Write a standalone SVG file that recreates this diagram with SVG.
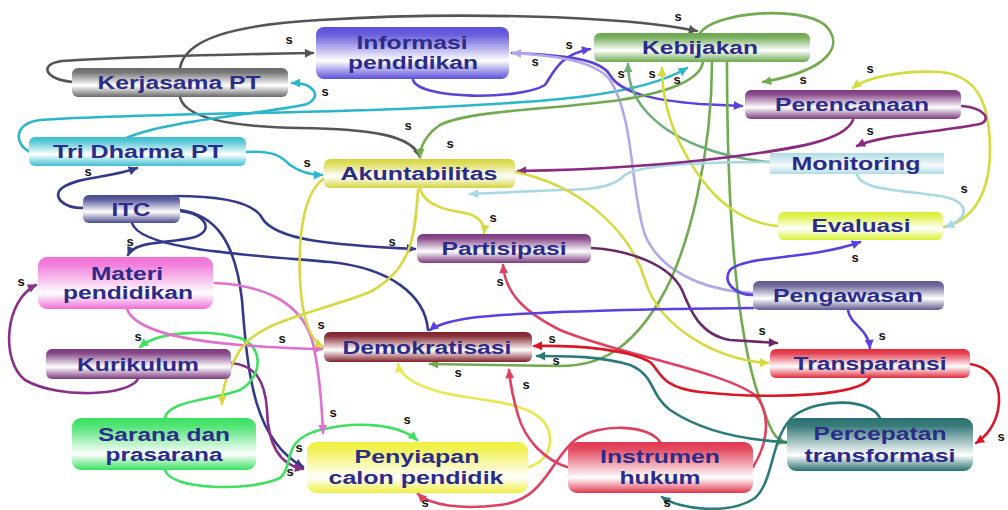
<svg xmlns="http://www.w3.org/2000/svg" width="1008" height="510" viewBox="0 0 1008 510">
<defs>
<style>
.t{font-family:"Liberation Sans",Arial,sans-serif;font-weight:bold;font-size:18px;fill:#2b2b8a;text-anchor:middle}
.s{font-family:"Liberation Sans",Arial,sans-serif;font-weight:bold;font-size:13px;fill:#111;text-anchor:middle}
.e{fill:none;stroke-width:2.6;stroke-linecap:round}
.gray{stroke:#555;marker-end:url(#a-gray)}
.cyan{stroke:#2bb6c9;marker-end:url(#a-cyan)}
.info{stroke:#5a44d8;marker-end:url(#a-info)}
.lav{stroke:#b4a8ec;marker-end:url(#a-lav)}
.kgreen{stroke:#72aa50;marker-end:url(#a-kgreen)}
.sage{stroke:#6fae7a;marker-end:url(#a-sage)}
.eyel{stroke:#d2dc3c;marker-end:url(#a-eyel)}
.lblue{stroke:#a8d8e4;marker-end:url(#a-lblue)}
.pere{stroke:#8a2a80;marker-end:url(#a-pere)}
.navy{stroke:#333a8a;marker-end:url(#a-navy)}
.kur{stroke:#8a3088;marker-end:url(#a-kur)}
.sgreen{stroke:#40e060;marker-end:url(#a-sgreen)}
.pink{stroke:#e070d0;marker-end:url(#a-pink)}
.ayel{stroke:#d8d840;marker-end:url(#a-ayel)}
.pyel{stroke:#e8e850;marker-end:url(#a-pyel)}
.rose{stroke:#e04060;marker-end:url(#a-rose)}
.red{stroke:#d81828;marker-end:url(#a-red)}
.teal{stroke:#2a7a7a;marker-end:url(#a-teal)}
.ppur{stroke:#6a2a6a;marker-end:url(#a-ppur)}
.viol{stroke:#5a40e0;marker-end:url(#a-viol)}
</style>
<marker id="a-gray" viewBox="0 0 10 10" refX="9" refY="5" markerWidth="10" markerHeight="9" markerUnits="userSpaceOnUse" orient="auto"><path d="M0,0L10,5L0,10z" fill="#555"/></marker>
<marker id="a-cyan" viewBox="0 0 10 10" refX="9" refY="5" markerWidth="10" markerHeight="9" markerUnits="userSpaceOnUse" orient="auto"><path d="M0,0L10,5L0,10z" fill="#2bb6c9"/></marker>
<marker id="a-info" viewBox="0 0 10 10" refX="9" refY="5" markerWidth="10" markerHeight="9" markerUnits="userSpaceOnUse" orient="auto"><path d="M0,0L10,5L0,10z" fill="#5a44d8"/></marker>
<marker id="a-lav" viewBox="0 0 10 10" refX="9" refY="5" markerWidth="10" markerHeight="9" markerUnits="userSpaceOnUse" orient="auto"><path d="M0,0L10,5L0,10z" fill="#b4a8ec"/></marker>
<marker id="a-kgreen" viewBox="0 0 10 10" refX="9" refY="5" markerWidth="10" markerHeight="9" markerUnits="userSpaceOnUse" orient="auto"><path d="M0,0L10,5L0,10z" fill="#72aa50"/></marker>
<marker id="a-sage" viewBox="0 0 10 10" refX="9" refY="5" markerWidth="10" markerHeight="9" markerUnits="userSpaceOnUse" orient="auto"><path d="M0,0L10,5L0,10z" fill="#6fae7a"/></marker>
<marker id="a-eyel" viewBox="0 0 10 10" refX="9" refY="5" markerWidth="10" markerHeight="9" markerUnits="userSpaceOnUse" orient="auto"><path d="M0,0L10,5L0,10z" fill="#d2dc3c"/></marker>
<marker id="a-lblue" viewBox="0 0 10 10" refX="9" refY="5" markerWidth="10" markerHeight="9" markerUnits="userSpaceOnUse" orient="auto"><path d="M0,0L10,5L0,10z" fill="#a8d8e4"/></marker>
<marker id="a-pere" viewBox="0 0 10 10" refX="9" refY="5" markerWidth="10" markerHeight="9" markerUnits="userSpaceOnUse" orient="auto"><path d="M0,0L10,5L0,10z" fill="#8a2a80"/></marker>
<marker id="a-navy" viewBox="0 0 10 10" refX="9" refY="5" markerWidth="10" markerHeight="9" markerUnits="userSpaceOnUse" orient="auto"><path d="M0,0L10,5L0,10z" fill="#333a8a"/></marker>
<marker id="a-kur" viewBox="0 0 10 10" refX="9" refY="5" markerWidth="10" markerHeight="9" markerUnits="userSpaceOnUse" orient="auto"><path d="M0,0L10,5L0,10z" fill="#8a3088"/></marker>
<marker id="a-sgreen" viewBox="0 0 10 10" refX="9" refY="5" markerWidth="10" markerHeight="9" markerUnits="userSpaceOnUse" orient="auto"><path d="M0,0L10,5L0,10z" fill="#40e060"/></marker>
<marker id="a-pink" viewBox="0 0 10 10" refX="9" refY="5" markerWidth="10" markerHeight="9" markerUnits="userSpaceOnUse" orient="auto"><path d="M0,0L10,5L0,10z" fill="#e070d0"/></marker>
<marker id="a-ayel" viewBox="0 0 10 10" refX="9" refY="5" markerWidth="10" markerHeight="9" markerUnits="userSpaceOnUse" orient="auto"><path d="M0,0L10,5L0,10z" fill="#d8d840"/></marker>
<marker id="a-pyel" viewBox="0 0 10 10" refX="9" refY="5" markerWidth="10" markerHeight="9" markerUnits="userSpaceOnUse" orient="auto"><path d="M0,0L10,5L0,10z" fill="#e8e850"/></marker>
<marker id="a-rose" viewBox="0 0 10 10" refX="9" refY="5" markerWidth="10" markerHeight="9" markerUnits="userSpaceOnUse" orient="auto"><path d="M0,0L10,5L0,10z" fill="#e04060"/></marker>
<marker id="a-red" viewBox="0 0 10 10" refX="9" refY="5" markerWidth="10" markerHeight="9" markerUnits="userSpaceOnUse" orient="auto"><path d="M0,0L10,5L0,10z" fill="#d81828"/></marker>
<marker id="a-teal" viewBox="0 0 10 10" refX="9" refY="5" markerWidth="10" markerHeight="9" markerUnits="userSpaceOnUse" orient="auto"><path d="M0,0L10,5L0,10z" fill="#2a7a7a"/></marker>
<marker id="a-ppur" viewBox="0 0 10 10" refX="9" refY="5" markerWidth="10" markerHeight="9" markerUnits="userSpaceOnUse" orient="auto"><path d="M0,0L10,5L0,10z" fill="#6a2a6a"/></marker>
<marker id="a-viol" viewBox="0 0 10 10" refX="9" refY="5" markerWidth="10" markerHeight="9" markerUnits="userSpaceOnUse" orient="auto"><path d="M0,0L10,5L0,10z" fill="#5a40e0"/></marker>
<linearGradient id="g-gray" x1="0" y1="0" x2="0" y2="1"><stop offset="0" stop-color="#6a6a6a"/><stop offset="0.15" stop-color="#777"/><stop offset="0.6" stop-color="#fff"/><stop offset="1" stop-color="#6a6a6a"/></linearGradient>
<linearGradient id="g-info" x1="0" y1="0" x2="0" y2="1"><stop offset="0" stop-color="#5b4fd9"/><stop offset="0.15" stop-color="#6a60dc"/><stop offset="0.65" stop-color="#fff"/><stop offset="1" stop-color="#5b4fd9"/></linearGradient>
<linearGradient id="g-keb" x1="0" y1="0" x2="0" y2="1"><stop offset="0" stop-color="#6aa84f"/><stop offset="0.15" stop-color="#7ab060"/><stop offset="0.6" stop-color="#fff"/><stop offset="1" stop-color="#6aa84f"/></linearGradient>
<linearGradient id="g-pur" x1="0" y1="0" x2="0" y2="1"><stop offset="0" stop-color="#7b3a7e"/><stop offset="0.15" stop-color="#8a4c8c"/><stop offset="0.6" stop-color="#fff"/><stop offset="1" stop-color="#7b3a7e"/></linearGradient>
<linearGradient id="g-mon" x1="0" y1="0" x2="0" y2="1"><stop offset="0" stop-color="#b0dce4"/><stop offset="0.6" stop-color="#f4fafb"/><stop offset="1" stop-color="#b0dce4"/></linearGradient>
<linearGradient id="g-eva" x1="0" y1="0" x2="0" y2="1"><stop offset="0" stop-color="#d8f030"/><stop offset="0.15" stop-color="#e0f250"/><stop offset="0.6" stop-color="#fff"/><stop offset="1" stop-color="#d8f030"/></linearGradient>
<linearGradient id="g-tri" x1="0" y1="0" x2="0" y2="1"><stop offset="0" stop-color="#3bbfcf"/><stop offset="0.15" stop-color="#55c8d6"/><stop offset="0.6" stop-color="#fff"/><stop offset="1" stop-color="#3bbfcf"/></linearGradient>
<linearGradient id="g-aku" x1="0" y1="0" x2="0" y2="1"><stop offset="0" stop-color="#d4d440"/><stop offset="0.15" stop-color="#dcdc5c"/><stop offset="0.6" stop-color="#fff"/><stop offset="1" stop-color="#d4d440"/></linearGradient>
<linearGradient id="g-itc" x1="0" y1="0" x2="0" y2="1"><stop offset="0" stop-color="#4a4a90"/><stop offset="0.15" stop-color="#5a5a9c"/><stop offset="0.6" stop-color="#fff"/><stop offset="1" stop-color="#4a4a90"/></linearGradient>
<linearGradient id="g-mat" x1="0" y1="0" x2="0" y2="1"><stop offset="0" stop-color="#f070d8"/><stop offset="0.15" stop-color="#f280dc"/><stop offset="0.7" stop-color="#fff"/><stop offset="1" stop-color="#f070d8"/></linearGradient>
<linearGradient id="g-pen" x1="0" y1="0" x2="0" y2="1"><stop offset="0" stop-color="#605a90"/><stop offset="0.15" stop-color="#6e689a"/><stop offset="0.6" stop-color="#fff"/><stop offset="1" stop-color="#605a90"/></linearGradient>
<linearGradient id="g-dem" x1="0" y1="0" x2="0" y2="1"><stop offset="0" stop-color="#80202a"/><stop offset="0.15" stop-color="#8c3640"/><stop offset="0.6" stop-color="#fff"/><stop offset="1" stop-color="#80202a"/></linearGradient>
<linearGradient id="g-tra" x1="0" y1="0" x2="0" y2="1"><stop offset="0" stop-color="#e02c3c"/><stop offset="0.15" stop-color="#e44454"/><stop offset="0.6" stop-color="#fff"/><stop offset="1" stop-color="#e02c3c"/></linearGradient>
<linearGradient id="g-sar" x1="0" y1="0" x2="0" y2="1"><stop offset="0" stop-color="#38e060"/><stop offset="0.15" stop-color="#50e474"/><stop offset="0.7" stop-color="#fff"/><stop offset="1" stop-color="#38e060"/></linearGradient>
<linearGradient id="g-pny" x1="0" y1="0" x2="0" y2="1"><stop offset="0" stop-color="#f0f040"/><stop offset="0.15" stop-color="#f2f258"/><stop offset="0.7" stop-color="#fff"/><stop offset="1" stop-color="#f0f040"/></linearGradient>
<linearGradient id="g-ins" x1="0" y1="0" x2="0" y2="1"><stop offset="0" stop-color="#e03850"/><stop offset="0.15" stop-color="#e44c62"/><stop offset="0.7" stop-color="#fff"/><stop offset="1" stop-color="#e03850"/></linearGradient>
<linearGradient id="g-per" x1="0" y1="0" x2="0" y2="1"><stop offset="0" stop-color="#2a7070"/><stop offset="0.15" stop-color="#3a7c7c"/><stop offset="0.7" stop-color="#fff"/><stop offset="1" stop-color="#2a7070"/></linearGradient>
</defs>
<rect width="1008" height="510" fill="#fff"/>
<g id="connectors">
<path class="e gray" d="M180,68 C185,40 230,25 320,20 C450,12 620,15 697,31"/>
<path class="e gray" d="M73,82 C45,80 38,64 62,61 C150,56 250,54 313,53"/>
<path class="e gray" d="M180,97 C185,120 240,127 300,128 C370,129 412,135 420,157"/>
<path class="e cyan" d="M122,140 C160,120 280,112 307,104 C322,97 315,83 292,83"/>
<path class="e cyan" d="M30,152 C15,145 12,124 40,120 C150,113 300,114 420,108 C550,102 640,96 687,68"/>
<path class="e cyan" d="M247,152 C275,150 283,158 290,165 C300,172 310,175 322,175"/>
<path class="e info" d="M413,80 C420,100 520,100 545,85 C555,70 560,55 590,49"/>
<path class="e info" d="M512,53 C560,55 600,58 610,75 C620,92 650,100 700,104 L742,106"/>
<path class="e lav" d="M753,293 C700,290 660,270 645,235 C630,190 635,120 610,80 C595,60 550,55 513,53"/>
<path class="e kgreen" d="M700,33 C715,12 800,5 825,25 C845,45 830,70 763,82"/>
<path class="e kgreen" d="M703,62 C700,80 670,92 620,100 C550,110 470,110 440,125 C425,135 420,148 420,157"/>
<path class="e kgreen" d="M712,62 C712,150 690,250 660,300 C630,350 600,366 560,366 L430,364"/>
<path class="e kgreen" d="M727,62 C727,200 735,330 760,400 C770,430 775,440 786,443"/>
<path class="e sage" d="M770,162 C720,158 670,140 645,110 C632,95 628,80 628,64"/>
<path class="e eyel" d="M777,226 C740,222 715,200 695,170 C672,135 662,100 662,68"/>
<path class="e eyel" d="M944,227 C975,220 990,190 990,150 C990,100 975,75 940,72 C900,70 865,78 853,88"/>
<path class="e lblue" d="M857,174 C860,190 900,190 940,196 C965,200 975,215 946,227"/>
<path class="e lblue" d="M770,162 C700,162 640,165 625,175 C615,185 600,190 560,190 L470,194"/>
<path class="e pere" d="M962,106 C985,108 992,120 980,124 C940,132 880,135 857,146"/>
<path class="e pere" d="M853,120 C845,140 800,148 730,157 C650,167 580,170 518,171"/>
<path class="e navy" d="M83,208 C62,208 52,196 62,188 C80,176 110,178 137,168"/>
<path class="e navy" d="M180,211 C205,214 215,230 195,237 C170,244 135,240 128,255"/>
<path class="e navy" d="M175,196 C230,196 255,205 262,218 C275,240 330,245 415,249"/>
<path class="e navy" d="M180,210 C215,215 235,240 242,300 C248,380 255,440 303,467"/>
<path class="e" stroke="#333a8a" d="M132,223 C140,250 250,255 330,262 C390,268 425,295 428,330"/>
<path class="e kur" d="M138,379 C130,395 60,400 25,380 C0,360 5,300 36,285"/>
<path class="e kur" d="M231,363 C255,365 265,380 267,410 C268,445 280,465 303,469"/>
<path class="e sgreen" d="M165,418 C168,400 215,400 240,390 C265,375 262,345 240,338 C210,330 160,330 140,347"/>
<path class="e sgreen" d="M165,470 C170,490 250,492 280,478 C295,465 280,440 320,430 C360,420 400,425 417,440"/>
<path class="e pink" d="M127,309 C135,330 180,340 240,345 C280,348 300,349 322,349"/>
<path class="e pink" d="M215,283 C260,285 300,300 312,340 C320,370 322,410 323,433"/>
<path class="e ayel" d="M420,189 C425,205 445,210 465,213 C480,216 485,225 484,233"/>
<path class="e ayel" stroke-width="3.4" d="M418,190 C415,240 410,270 370,292 C320,312 260,320 240,350 C228,370 222,390 222,404"/>
<path class="e ayel" d="M325,178 C305,190 298,230 300,280 C302,320 310,340 323,347"/>
<path class="e ayel" d="M515,172 C580,185 630,230 645,280 C660,330 720,360 768,363"/>
<path class="e pyel" d="M529,467 C555,458 555,430 540,418 C520,400 470,400 440,392 C415,385 400,375 398,364"/>
<path class="e rose" d="M753,467 C770,440 770,410 755,395 C720,370 620,355 560,330 C520,310 505,290 503,265"/>
<path class="e rose" d="M567,467 C545,460 525,440 518,415 C512,395 510,380 509,370"/>
<path class="e rose" d="M660,442 C650,425 600,422 575,440 C550,460 545,500 500,505 C460,510 430,505 418,494"/>
<path class="e red" d="M870,378 C860,395 780,400 700,392 C660,388 660,370 650,362 C630,350 580,345 534,346"/>
<path class="e red" d="M970,364 C995,368 1002,390 998,410 C995,425 988,435 976,443"/>
<path class="e teal" d="M787,442 C740,440 700,430 670,410 C650,395 655,375 630,365 C600,356 570,356 537,356"/>
<path class="e teal" d="M880,418 C870,398 820,398 795,415 C770,435 775,480 755,498 C730,515 680,510 662,497"/>
<path class="e ppur" d="M591,248 C630,250 670,265 682,290 C690,310 700,335 730,340 L777,343"/>
<path class="e viol" d="M753,308 C650,309 520,312 470,318 C445,322 435,326 430,330"/>
<path class="e viol" d="M753,295 C735,295 722,282 730,270 C745,255 810,260 860,242"/>
<path class="e viol" d="M848,310 C850,325 868,328 870,348"/>
<g id="labels">
<text class="s" x="678" y="21">s</text>
<text class="s" x="289" y="44">s</text>
<text class="s" x="325" y="96">s</text>
<text class="s" x="569" y="49">s</text>
<text class="s" x="535" y="66">s</text>
<text class="s" x="621" y="78">s</text>
<text class="s" x="652" y="78">s</text>
<text class="s" x="677" y="84">s</text>
<text class="s" x="803" y="84">s</text>
<text class="s" x="870" y="73">s</text>
<text class="s" x="870" y="135">s</text>
<text class="s" x="964" y="193">s</text>
<text class="s" x="408" y="130">s</text>
<text class="s" x="450" y="148">s</text>
<text class="s" x="307" y="167">s</text>
<text class="s" x="88" y="176">s</text>
<text class="s" x="130" y="246">s</text>
<text class="s" x="21" y="286">s</text>
<text class="s" x="392" y="246">s</text>
<text class="s" x="493" y="222">s</text>
<text class="s" x="500" y="286">s</text>
<text class="s" x="321" y="329">s</text>
<text class="s" x="138" y="341">s</text>
<text class="s" x="282" y="343">s</text>
<text class="s" x="458" y="377">s</text>
<text class="s" x="526" y="389">s</text>
<text class="s" x="552" y="343">s</text>
<text class="s" x="556" y="365">s</text>
<text class="s" x="333" y="417">s</text>
<text class="s" x="407" y="424">s</text>
<text class="s" x="299" y="452">s</text>
<text class="s" x="290" y="476">s</text>
<text class="s" x="425" y="507">s</text>
<text class="s" x="667" y="507">s</text>
<text class="s" x="1001" y="441">s</text>
<text class="s" x="762" y="335">s</text>
<text class="s" x="882" y="340">s</text>
<text class="s" x="855" y="262">s</text>
</g>
</g>
<g id="n-kerjasama"><rect x="72" y="68" width="216" height="29" rx="6" fill="url(#g-gray)"/><text class="t" x="179" y="88.5" textLength="163" lengthAdjust="spacingAndGlyphs">Kerjasama PT</text></g>
<g id="n-informasi"><rect x="316" y="27" width="193" height="52" rx="8" fill="url(#g-info)"/><text class="t" x="412" y="49" textLength="111" lengthAdjust="spacingAndGlyphs">Informasi</text><text class="t" x="413" y="69" textLength="130" lengthAdjust="spacingAndGlyphs">pendidikan</text></g>
<g id="n-kebijakan"><rect x="594" y="33" width="216" height="29" rx="6" fill="url(#g-keb)"/><text class="t" x="700" y="54" textLength="116" lengthAdjust="spacingAndGlyphs">Kebijakan</text></g>
<g id="n-perencanaan"><rect x="745" y="90" width="216" height="29" rx="6" fill="url(#g-pur)"/><text class="t" x="852" y="111" textLength="154" lengthAdjust="spacingAndGlyphs">Perencanaan</text></g>
<g id="n-monitoring"><rect x="770" y="153" width="174" height="21" fill="url(#g-mon)"/><text class="t" x="856" y="170" textLength="129" lengthAdjust="spacingAndGlyphs">Monitoring</text></g>
<g id="n-evaluasi"><rect x="778" y="212" width="165" height="28" rx="6" fill="url(#g-eva)"/><text class="t" x="861" y="232" textLength="99" lengthAdjust="spacingAndGlyphs">Evaluasi</text></g>
<g id="n-tridharma"><rect x="29" y="137" width="217" height="29" rx="6" fill="url(#g-tri)"/><text class="t" x="138" y="158" textLength="170" lengthAdjust="spacingAndGlyphs">Tri Dharma PT</text></g>
<g id="n-akuntabilitas"><rect x="324" y="159" width="191" height="29" rx="6" fill="url(#g-aku)"/><text class="t" x="419" y="180" textLength="157" lengthAdjust="spacingAndGlyphs">Akuntabilitas</text></g>
<g id="n-itc"><rect x="83" y="195" width="97" height="28" rx="6" fill="url(#g-itc)"/><text class="t" x="131" y="215.5" textLength="39" lengthAdjust="spacingAndGlyphs">ITC</text></g>
<g id="n-partisipasi"><rect x="417" y="234" width="174" height="29" rx="6" fill="url(#g-pur)"/><text class="t" x="504" y="255" textLength="125" lengthAdjust="spacingAndGlyphs">Partisipasi</text></g>
<g id="n-materi"><rect x="38" y="257" width="175" height="52" rx="9" fill="url(#g-mat)"/><text class="t" x="127" y="280" textLength="72" lengthAdjust="spacingAndGlyphs">Materi</text><text class="t" x="128" y="299" textLength="130" lengthAdjust="spacingAndGlyphs">pendidikan</text></g>
<g id="n-pengawasan"><rect x="753" y="281" width="191" height="29" rx="6" fill="url(#g-pen)"/><text class="t" x="848" y="302" textLength="150" lengthAdjust="spacingAndGlyphs">Pengawasan</text></g>
<g id="n-demokratisasi"><rect x="324" y="332" width="208" height="30" rx="6" fill="url(#g-dem)"/><text class="t" x="427" y="353.5" textLength="169" lengthAdjust="spacingAndGlyphs">Demokratisasi</text></g>
<g id="n-kurikulum"><rect x="46" y="349" width="185" height="30" rx="6" fill="url(#g-pur)"/><text class="t" x="138" y="370.5" textLength="122" lengthAdjust="spacingAndGlyphs">Kurikulum</text></g>
<g id="n-transparansi"><rect x="770" y="349" width="200" height="29" rx="6" fill="url(#g-tra)"/><text class="t" x="870" y="370" textLength="153" lengthAdjust="spacingAndGlyphs">Transparansi</text></g>
<g id="n-sarana"><rect x="72" y="418" width="184" height="52" rx="9" fill="url(#g-sar)"/><text class="t" x="164" y="441" textLength="132" lengthAdjust="spacingAndGlyphs">Sarana dan</text><text class="t" x="164" y="461" textLength="117" lengthAdjust="spacingAndGlyphs">prasarana</text></g>
<g id="n-penyiapan"><rect x="307" y="442" width="221" height="51" rx="9" fill="url(#g-pny)"/><text class="t" x="417" y="463" textLength="125" lengthAdjust="spacingAndGlyphs">Penyiapan</text><text class="t" x="416" y="484" textLength="175" lengthAdjust="spacingAndGlyphs">calon pendidik</text></g>
<g id="n-instrumen"><rect x="568" y="442" width="185" height="51" rx="9" fill="url(#g-ins)"/><text class="t" x="660" y="463" textLength="120" lengthAdjust="spacingAndGlyphs">Instrumen</text><text class="t" x="660" y="484" textLength="81" lengthAdjust="spacingAndGlyphs">hukum</text></g>
<g id="n-percepatan"><rect x="787" y="418" width="186" height="53" rx="9" fill="url(#g-per)"/><text class="t" x="880" y="440" textLength="133" lengthAdjust="spacingAndGlyphs">Percepatan</text><text class="t" x="880" y="462" textLength="151" lengthAdjust="spacingAndGlyphs">transformasi</text></g>
</svg>
